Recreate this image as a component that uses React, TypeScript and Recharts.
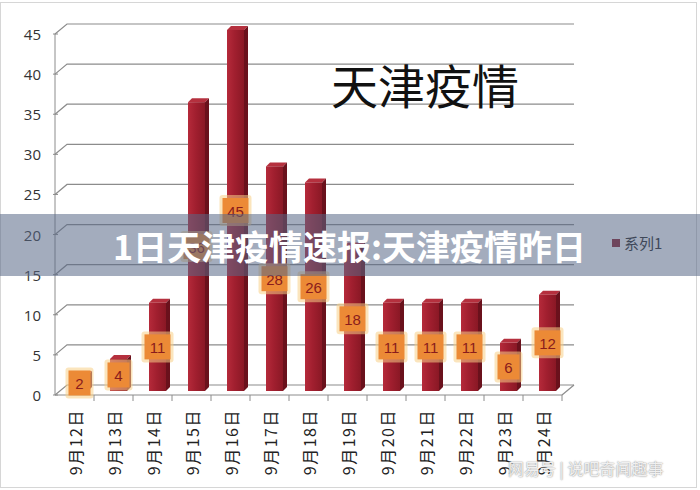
import React from "react"
import { BarChart, Bar, XAxis, YAxis, CartesianGrid, LabelList } from "recharts"

if (typeof document !== "undefined") document.body.style.margin = "0"

const dates = ["9月12日", "9月13日", "9月14日", "9月15日", "9月16日", "9月17日", "9月18日", "9月19日", "9月20日", "9月21日", "9月22日", "9月23日", "9月24日"]
const cases = [2, 4, 11, 36, 45, 28, 26, 18, 11, 11, 11, 6, 12]
const yTicks = [0, 5, 10, 15, 20, 25, 30, 35, 40, 45]
const seriesName = "系列1"
const chartTitle = "天津疫情"
const bannerText = "1日天津疫情速报:天津疫情昨日"
const watermark = "网易号 | 说吧奇闻趣事"

const data = dates.map((d, i) => ({ date: d, value: cases[i] }))

// depth offsets for the fake 3D look
const WALL_DX = 12
const WALL_DY = -10
const BAR_DX = 5
const BAR_DY = -4
const SIDE = 4

const PLOT_LEFT = 55
const PLOT_RIGHT = 562
const PLOT_BOTTOM = 395
const BAND = (PLOT_RIGHT - PLOT_LEFT) / dates.length

function Bar3D(props: any) {
  const { x, y, width, height } = props
  if (height == null || height <= 0) return null
  const fx = x + BAR_DX
  const fy = y + BAR_DY
  return (
    <g>
      <polygon
        points={`${fx},${fy} ${fx + SIDE},${fy - SIDE} ${fx + width + SIDE},${fy - SIDE} ${fx + width},${fy}`}
        fill="#b5303e"
      />
      <polygon
        points={`${fx + width},${fy} ${fx + width + SIDE},${fy - SIDE} ${fx + width + SIDE},${fy + height - SIDE} ${fx + width},${fy + height}`}
        fill="#6a111c"
      />
      <rect x={fx} y={fy} width={width} height={height} fill="url(#barFront)" />
    </g>
  )
}

function ValueBox(props: any) {
  const { x, y, width, height, value } = props
  const cx = x + BAR_DX + width / 2
  const cy = y + BAR_DY + height / 2
  const w = String(value).length > 1 ? 26 : 22
  const h = 25
  return (
    <g>
      <rect x={cx - w / 2 - 3} y={cy - h / 2 - 3} width={w + 6} height={h + 6} fill="#f8cf86" opacity={0.55} rx={3} />
      <rect x={cx - w / 2} y={cy - h / 2} width={w} height={h} fill="#ec8a36" />
      <text
        x={cx}
        y={cy + 1}
        textAnchor="middle"
        dominantBaseline="central"
        fontSize={15}
        fontFamily="'Liberation Sans', Arial, sans-serif"
        fill="#8a1c1c"
      >
        {value}
      </text>
    </g>
  )
}

function GridLine(props: any) {
  const { x1, y1, x2 } = props
  return (
    <polyline
      key={`g-${y1}`}
      points={`${x1},${y1} ${x1 + WALL_DX},${y1 + WALL_DY} ${x2 + WALL_DX},${y1 + WALL_DY}`}
      fill="none"
      stroke="#8c8c8c"
      strokeWidth={1.2}
    />
  )
}

function YTick(props: any) {
  const { x, y, payload } = props
  return (
    <g>
      <line x1={x + 6} x2={x + 11} y1={y} y2={y} stroke="#8c8c8c" />
      <text
        x={x - 6}
        y={y}
        textAnchor="end"
        dominantBaseline="central"
        fontSize={15}
        fontFamily="'Open Sans', 'Liberation Sans', sans-serif"
        fill="#333"
      >
        {payload.value}
      </text>
    </g>
  )
}

function XTick(props: any) {
  const { x, y, payload } = props
  return (
    <g>
      <line x1={x + BAND / 2} x2={x + BAND / 2} y1={y - 8} y2={y - 2} stroke="#8c8c8c" />
      <text
        transform={`translate(${x},${y + 6}) rotate(-90)`}
        textAnchor="end"
        dominantBaseline="central"
        fontSize={16}
        letterSpacing={1.5}
        fontFamily="'Noto Sans CJK SC', sans-serif"
        fill="#222"
      >
        {payload.value}
      </text>
    </g>
  )
}

export default function App() {
  return (
    <div style={{ position: "relative", width: 700, height: 490, background: "#fff", overflow: "hidden" }}>
      <div style={{ position: "absolute", left: 0, top: 2, width: 697, height: 486, border: "1px solid #d6d6d6", boxSizing: "border-box" }} />
      <BarChart
        width={700}
        height={490}
        data={data}
        margin={{ top: 34, right: 138, bottom: 15, left: 10 }}
        barSize={17}
      >
        <defs>
          <linearGradient id="barFront" x1="0" y1="0" x2="1" y2="0">
            <stop offset="0%" stopColor="#b52a3a" />
            <stop offset="45%" stopColor="#a11f2f" />
            <stop offset="100%" stopColor="#8a1825" />
          </linearGradient>
        </defs>
        <CartesianGrid vertical={false} horizontal={(p: any) => <GridLine {...p} />} />
        <XAxis
          dataKey="date"
          interval={0}
          height={80}
          tick={<XTick />}
          tickLine={false}
          axisLine={{ stroke: "#8c8c8c" }}
        />
        <YAxis
          domain={[0, 45]}
          ticks={yTicks}
          width={45}
          tick={<YTick />}
          tickLine={false}
          axisLine={{ stroke: "#8c8c8c" }}
        />
        <Bar dataKey="value" name={seriesName} shape={<Bar3D />} isAnimationActive={false}>
          <LabelList dataKey="value" content={<ValueBox />} />
        </Bar>
      </BarChart>
      <svg style={{ position: "absolute", left: 0, top: 0, pointerEvents: "none" }} width={700} height={490}>
        <line x1={PLOT_RIGHT} y1={PLOT_BOTTOM} x2={PLOT_RIGHT + WALL_DX} y2={PLOT_BOTTOM + WALL_DY} stroke="#8c8c8c" strokeWidth={1.2} />
      </svg>
      <div
        style={{
          position: "absolute",
          left: 612,
          top: 232,
          display: "flex",
          alignItems: "center",
          fontFamily: "'Noto Sans CJK SC', sans-serif",
          fontSize: 15,
          color: "#222",
        }}
      >
        <span style={{ width: 8, height: 8, background: "#8a1c28", marginRight: 4, display: "inline-block" }} />
        {seriesName}
      </div>
      <div
        style={{
          position: "absolute",
          left: 331,
          top: 54,
          fontFamily: "'Noto Sans CJK SC', sans-serif",
          fontSize: 47,
          color: "#111",
          lineHeight: "60px",
        }}
      >
        {chartTitle}
      </div>
      <div
        style={{
          position: "absolute",
          left: 0,
          top: 214,
          width: 700,
          height: 62,
          background: "rgba(88,104,134,0.55)",
          display: "flex",
          alignItems: "center",
          justifyContent: "center",
        }}
      >
        <span
          style={{
            fontFamily: "'Noto Sans CJK SC', sans-serif",
            fontWeight: 700,
            fontSize: 34,
            color: "#fff",
            marginLeft: -1,
          }}
        >
          {bannerText}
        </span>
      </div>
      <div
        style={{
          position: "absolute",
          left: 508,
          top: 456,
          fontFamily: "'Noto Sans CJK SC', sans-serif",
          fontSize: 16,
          color: "rgba(255,255,255,0.85)",
          textShadow: "0 0 1px #999, 0 0 2px #aaa",
        }}
      >
        {watermark}
      </div>
    </div>
  )
}
